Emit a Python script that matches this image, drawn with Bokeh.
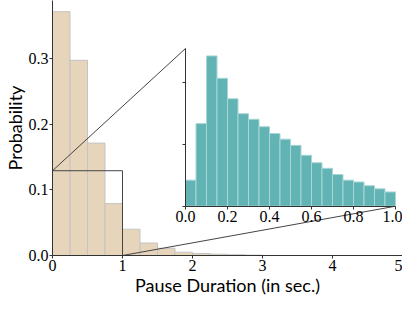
from bokeh.plotting import figure
from bokeh.models import Range1d, LinearAxis, FixedTicker, CustomJSTickFormatter
from bokeh.embed import file_html
from bokeh.resources import INLINE

# ---- data ----
main_edges = [0.0, 0.25, 0.5, 0.75, 1.0, 1.25, 1.5, 1.75, 2.0, 2.25, 2.5, 2.75, 3.0]
main_prob = [0.371, 0.297, 0.171, 0.079, 0.040, 0.019, 0.011, 0.005, 0.003, 0.002, 0.0012, 0.0006]

inset_edges = [round(0.05 * i, 2) for i in range(21)]
inset_density = [0.42, 1.33, 2.42, 2.06, 1.73, 1.49, 1.40, 1.28, 1.17, 1.08,
                 0.98, 0.82, 0.70, 0.61, 0.51, 0.42, 0.39, 0.33, 0.28, 0.23]

main_xticks = [0, 1, 2, 3, 4, 5]
main_yticks = [0.0, 0.1, 0.2, 0.3]
inset_xticks = [0.0, 0.2, 0.4, 0.6, 0.8, 1.0]
inset_yticks = [0, 1, 2]

zoom_box = (0.0, 1.0, 0.0, 0.129)          # region of main plot shown in the inset
inset_place = (1.9, 4.9, 0.075, 0.315)     # where the inset sits, in main data units
inset_yrange = (0.0, 2.54)

main_xr = (0.0, 5.0)
main_yr = (0.0, 0.388)

# ---- layout helpers ----
def extend(lo_in, hi_in, lo_pl, hi_pl, lo_m, hi_m):
    k = (hi_in - lo_in) / (hi_pl - lo_pl)
    return lo_in - (lo_pl - lo_m) * k, hi_in + (hi_m - hi_pl) * k

ix0, ix1 = extend(0.0, 1.0, inset_place[0], inset_place[1], *main_xr)
iy0, iy1 = extend(inset_yrange[0], inset_yrange[1], inset_place[2], inset_place[3], *main_yr)

TICK_FONT = "Liberation Serif"
LABEL_FONT = "Lato"
AX_COLOR = "#333333"

p = figure(width=402, height=298, output_backend="svg", toolbar_location=None,
           x_range=Range1d(*main_xr), y_range=Range1d(*main_yr),
           min_border_left=0, min_border_right=0, min_border_top=0, min_border_bottom=0)
p.extra_x_ranges = {"inset": Range1d(ix0, ix1)}
p.extra_y_ranges = {"inset": Range1d(iy0, iy1)}
p.outline_line_color = None
p.grid.visible = False
p.background_fill_color = "white"

# main histogram
p.quad(left=main_edges[:-1], right=main_edges[1:], bottom=0, top=main_prob,
       fill_color="#e6d4bb", line_color="#c4c4c4", line_width=1)

# zoom rectangle
p.quad(left=[zoom_box[0]], right=[zoom_box[1]], bottom=[zoom_box[2]], top=[zoom_box[3]],
       fill_color=None, line_color="#444444", line_width=1)

# connector lines
p.segment(x0=[zoom_box[0], zoom_box[1]], y0=[zoom_box[3], zoom_box[2]],
          x1=[inset_place[0], inset_place[1]], y1=[inset_place[3], inset_place[2]],
          line_color="#444444", line_width=1)

# inset histogram
p.quad(left=inset_edges[:-1], right=inset_edges[1:], bottom=0, top=inset_density,
       x_range_name="inset", y_range_name="inset",
       fill_color="#62b3b3", line_color="#a8d6d6", line_width=1)

# main axes
xa = p.xaxis[0]
xa.ticker = FixedTicker(ticks=main_xticks)
xa.axis_label = "Pause Duration (in sec.)"
ya = p.yaxis[0]
ya.ticker = FixedTicker(ticks=main_yticks)
ya.formatter = CustomJSTickFormatter(code="return tick.toFixed(1);")
ya.axis_label = "Probability"
for ax in (xa, ya):
    ax.axis_line_color = AX_COLOR
    ax.major_tick_line_color = AX_COLOR
    ax.minor_tick_line_color = None
    ax.major_tick_in = 0
    ax.major_tick_out = 3
    ax.major_label_text_font = TICK_FONT
    ax.major_label_text_font_size = "16px"
    ax.major_label_text_color = "black"
    ax.axis_label_text_font = LABEL_FONT
    ax.axis_label_text_font_size = "18px"
    ax.axis_label_text_font_style = "normal"
    ax.axis_label_text_color = "black"
    ax.major_label_standoff = 1
    ax.axis_label_standoff = 0

# inset axes
ixa = LinearAxis(x_range_name="inset", y_range_name="inset", fixed_location=0,
                 bounds=(0.0, 1.0), ticker=FixedTicker(ticks=inset_xticks),
                 formatter=CustomJSTickFormatter(code="return tick.toFixed(1);"))
iya = LinearAxis(x_range_name="inset", y_range_name="inset", fixed_location=0,
                 bounds=inset_yrange, ticker=FixedTicker(ticks=inset_yticks),
                 formatter=CustomJSTickFormatter(code="return '';"))
for ax in (ixa, iya):
    ax.axis_line_color = AX_COLOR
    ax.major_tick_line_color = AX_COLOR
    ax.minor_tick_line_color = None
    ax.major_tick_in = 0
    ax.major_tick_out = 3
    ax.major_label_text_font = TICK_FONT
    ax.major_label_text_font_size = "16px"
    ax.major_label_text_color = "black"
    ax.major_label_standoff = 2
p.add_layout(ixa, "below")
p.add_layout(iya, "left")

open("out.html", "w").write(file_html(p, INLINE))
